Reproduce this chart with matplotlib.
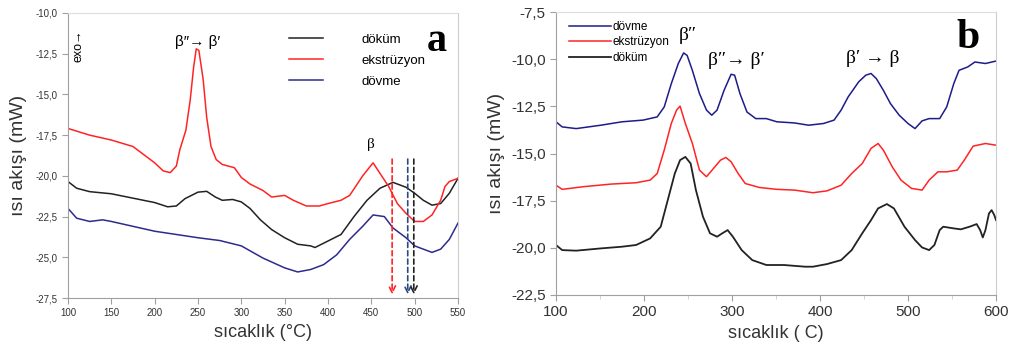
import matplotlib.pyplot as plt
from matplotlib.ticker import FuncFormatter, MultipleLocator

plt.rcParams['font.family'] = ['Liberation Sans', 'DejaVu Sans']

# panel a
a_red_T = [100, 125, 150, 175, 190, 200, 210, 218, 225, 229, 236, 241, 245, 248, 251, 256, 260, 265, 271,
           278, 285, 292, 300, 310, 325, 335, 350, 360, 375, 390, 400, 415, 425, 440, 452, 460, 470, 480,
           490, 500, 510, 520, 530, 535, 540, 550]
a_red = [-17.09, -17.5, -17.8, -18.2, -18.8, -19.2, -19.7, -19.8, -19.4, -18.4, -17.2, -15.35, -13.3, -12.2,
         -12.3, -14.1, -16.4, -18.2, -19.0, -19.3, -19.4, -19.5, -20.1, -20.5, -20.9, -21.3, -21.2, -21.5,
         -21.85, -21.85, -21.7, -21.5, -21.2, -20.0, -19.2, -19.85, -20.65, -21.7, -22.3, -22.8, -22.8,
         -22.4, -21.5, -20.65, -20.35, -20.15]
a_black_T = [100, 110, 125, 150, 175, 200, 215, 225, 235, 250, 260, 270, 278, 290, 300, 310, 322, 335, 350,
             365, 380, 385, 400, 415, 430, 445, 460, 475, 490, 500, 510, 520, 530, 540, 550]
a_black = [-20.35, -20.76, -20.97, -21.1, -21.37, -21.64, -21.9, -21.85, -21.4, -21.0, -20.95, -21.3, -21.5,
           -21.45, -21.6, -22.0, -22.7, -23.3, -23.8, -24.2, -24.3, -24.4, -24.0, -23.6, -22.5, -21.5, -20.76,
           -20.4, -20.7, -21.07, -21.5, -21.8, -21.7, -21.07, -20.15]
a_blue_T = [100, 110, 125, 140, 150, 175, 200, 225, 250, 275, 300, 325, 350, 365, 380, 395, 410, 425, 440,
            452, 465, 475, 490, 500, 510, 520, 530, 540, 550]
a_blue = [-22.0, -22.6, -22.8, -22.7, -22.8, -23.1, -23.4, -23.6, -23.8, -23.97, -24.3, -25.05, -25.65, -25.9,
          -25.75, -25.45, -24.85, -23.9, -23.1, -22.4, -22.5, -23.2, -23.8, -24.3, -24.5, -24.7, -24.5, -23.9,
          -22.9]
a_arrow_T = [474, 492, 499]

# panel b
b_blue_T = [100, 107, 123, 151, 175, 199, 215, 223, 231, 239, 245, 249, 255, 263, 271, 277, 283, 291, 299,
            303, 309, 317, 327, 339, 351, 371, 387, 404, 416, 424, 432, 444, 452, 458, 464, 472, 480, 490,
            500, 508, 516, 524, 536, 544, 552, 558, 568, 576, 588, 600]
b_blue = [-13.32, -13.59, -13.68, -13.5, -13.32, -13.23, -13.06, -12.53, -11.3, -10.23, -9.67, -9.8, -10.6,
          -11.82, -12.7, -12.97, -12.7, -11.65, -10.8, -10.85, -11.82, -12.8, -13.15, -13.15, -13.32, -13.38,
          -13.5, -13.41, -13.23, -12.7, -12.0, -11.2, -10.85, -10.76, -11.03, -11.65, -12.35, -12.97, -13.41,
          -13.68, -13.27, -13.15, -13.15, -12.53, -11.3, -10.59, -10.41, -10.15, -10.23, -10.1]
b_red_T = [100, 107, 131, 163, 191, 207, 215, 223, 231, 237, 241, 247, 255, 263, 271, 279, 287, 293, 299,
           307, 315, 331, 351, 371, 392, 408, 424, 436, 448, 458, 466, 472, 482, 492, 504, 516, 524, 534,
           544, 556, 564, 574, 588, 600]
b_red = [-16.68, -16.9, -16.76, -16.62, -16.55, -16.41, -16.06, -14.82, -13.41, -12.7, -12.49, -13.41, -14.47,
         -15.88, -16.23, -15.79, -15.35, -15.21, -15.44, -16.06, -16.59, -16.8, -16.9, -16.94, -17.08, -16.98,
         -16.68, -16.06, -15.53, -14.73, -14.47, -14.82, -15.7, -16.41, -16.85, -16.94, -16.41, -15.97, -15.97,
         -15.88, -15.35, -14.61, -14.47, -14.56]
b_black_T = [100, 107, 123, 151, 175, 191, 207, 219, 227, 235, 241, 247, 253, 259, 267, 275, 283, 289, 295,
             301, 311, 323, 339, 359, 383, 392, 408, 424, 436, 448, 458, 466, 476, 484, 496, 508, 516, 524,
             530, 536, 540, 552, 560, 570, 578, 582, 585, 588, 592, 595, 598, 600]
b_black = [-19.85, -20.12, -20.15, -20.03, -19.94, -19.85, -19.5, -18.88, -17.47, -16.06, -15.35, -15.18,
           -15.53, -16.94, -18.35, -19.23, -19.41, -19.23, -19.06, -19.41, -20.12, -20.65, -20.91, -20.91,
           -21.0, -21.0, -20.86, -20.65, -20.12, -19.23, -18.53, -17.91, -17.68, -17.91, -18.88, -19.59,
           -19.98, -20.12, -19.85, -19.06, -18.88, -18.97, -19.02, -18.88, -18.74, -19.06, -19.45, -19.06,
           -18.18, -18.0, -18.26, -18.53]

RED = '#ff2424'
BLACK = '#222222'
BLUE_A = '#2c2c8c'
BLUE_B = '#1c1c8a'
SPINE = '#a0a0a0'


def comma(v, pos):
    return f"{v:.1f}".replace('.', ',')


def style_axes(ax, labelsize):
    for s in ax.spines.values():
        s.set_color(SPINE)
        s.set_linewidth(0.8)
    ax.spines['top'].set_color('#dddddd')
    ax.spines['right'].set_color('#cccccc')
    ax.tick_params(direction='out', color=SPINE, labelsize=labelsize, labelcolor='#333333', length=4)
    ax.tick_params(which='minor', direction='out', color='#cccccc', length=3)
    ax.yaxis.set_major_formatter(FuncFormatter(comma))


fig = plt.figure(figsize=(10.13, 3.54), dpi=100)

# ---- panel a
ax1 = fig.add_axes([68 / 1013, 1 - 298 / 354, 390 / 1013, 285 / 354])
ax1.plot(a_black_T, a_black, color=BLACK, lw=1.1, label='döküm')
ax1.plot(a_red_T, a_red, color=RED, lw=1.1, label='ekstrüzyon')
ax1.plot(a_blue_T, a_blue, color=BLUE_A, lw=1.1, label='dövme')
arrow_colors = [RED, '#2a4a80', BLACK]
for t, c in zip(a_arrow_T, arrow_colors):
    ax1.annotate('', xy=(t, -27.45), xytext=(t, -18.8),
                 arrowprops=dict(arrowstyle='->', color=c, lw=1.2, linestyle=(0, (3, 2)),
                                 mutation_scale=12))
ax1.set_xlim(100, 550)
ax1.set_ylim(-27.5, -10)
ax1.xaxis.set_major_locator(MultipleLocator(50))
ax1.yaxis.set_major_locator(MultipleLocator(2.5))
style_axes(ax1, 7)
ax1.set_xlabel('sıcaklık (°C)', fontsize=13, color='#333333', labelpad=4)
ax1.set_ylabel('ısı akışı (mW)', fontsize=14, color='#333333', labelpad=6)
ax1.legend(loc='upper left', bbox_to_anchor=(0.55, 0.95), frameon=False, fontsize=9.5,
           handlelength=2.6, handletextpad=2.9, labelspacing=0.65, borderpad=0)
ax1.text(250, -11.8, 'β″→ β′', ha='center', va='center', fontsize=11)
ax1.text(449, -18.1, 'β', ha='center', va='center', fontsize=11, family='Liberation Serif')
ax1.text(112, -12.0, 'exo→', rotation=90, ha='center', va='center', fontsize=9)
ax1.text(526, -12.35, 'a', ha='center', va='baseline', fontsize=29, fontweight='bold',
         family='Liberation Serif')

# ---- panel b
ax2 = fig.add_axes([556 / 1013, 1 - 295 / 354, 440 / 1013, 283 / 354])
ax2.plot(b_blue_T, b_blue, color=BLUE_B, lw=1.1, label='dövme')
ax2.plot(b_red_T, b_red, color=RED, lw=1.1, label='ekstrüzyon')
ax2.plot(b_black_T, b_black, color=BLACK, lw=1.3, label='döküm')
ax2.set_xlim(100, 600)
ax2.set_ylim(-22.5, -7.5)
ax2.xaxis.set_major_locator(MultipleLocator(100))
ax2.xaxis.set_minor_locator(MultipleLocator(50))
ax2.yaxis.set_major_locator(MultipleLocator(2.5))
style_axes(ax2, 11)
ax2.set_xlabel('sıcaklık ( C)', fontsize=13, color='#333333', labelpad=4)
ax2.set_ylabel('ısı akışı (mW)', fontsize=14, color='#333333', labelpad=4)
ax2.legend(loc='upper left', bbox_to_anchor=(0.015, 0.99), frameon=False, fontsize=8.5,
           handlelength=3.6, handletextpad=0.1, labelspacing=0.3, borderpad=0)
ax2.text(250, -8.74, 'β″', ha='center', va='center', fontsize=14, family='Liberation Serif')
ax2.text(305, -10.06, 'β″→ β′', ha='center', va='center', fontsize=14, family='Liberation Serif')
ax2.text(460, -9.97, 'β′ → β', ha='center', va='center', fontsize=14, family='Liberation Serif')
ax2.text(568, -8.9, 'b', ha='center', va='center', fontsize=30, fontweight='bold',
         family='Liberation Serif')

fig.savefig('out.png', dpi=100)
